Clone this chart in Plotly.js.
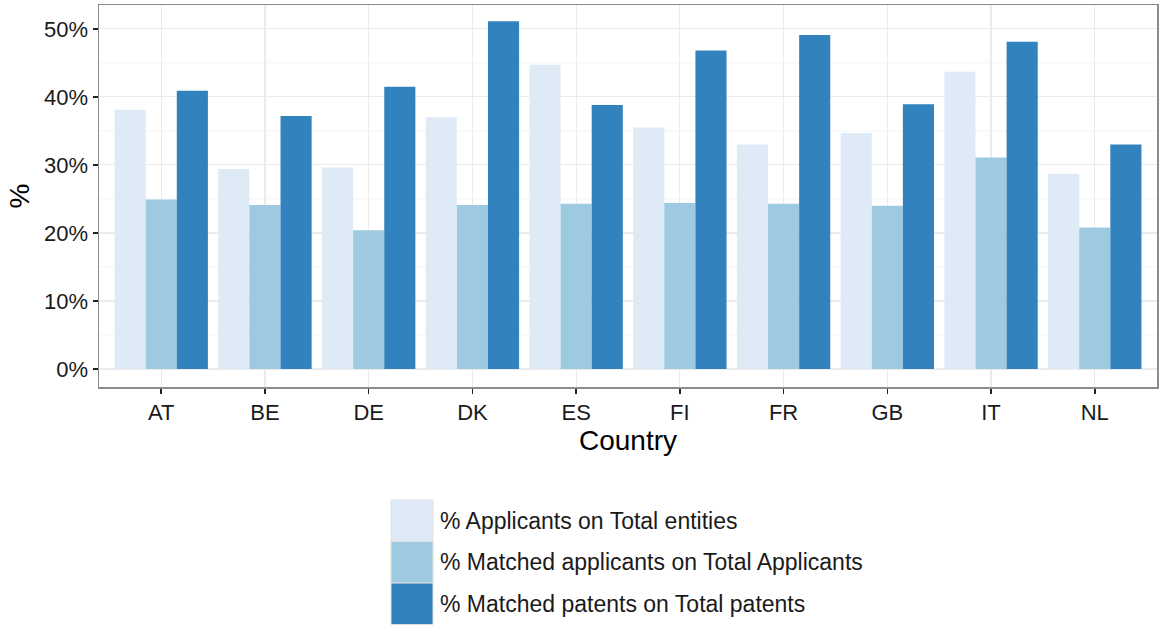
<!DOCTYPE html>
<html>
<head>
<meta charset="utf-8">
<script src="https://cdn.plot.ly/plotly-3.0.1.min.js"></script>
<style>html,body{margin:0;padding:0;background:#fff;}#chart{width:1159px;height:625px;}</style>
</head>
<body>
<div id="chart"></div>
<script>
const countries = ["AT","BE","DE","DK","ES","FI","FR","GB","IT","NL"];
const applicantsOnEntities = [0.381,0.294,0.296,0.370,0.447,0.355,0.330,0.347,0.437,0.287];
const matchedApplicants = [0.249,0.241,0.204,0.241,0.243,0.244,0.243,0.240,0.311,0.208];
const matchedPatents = [0.409,0.372,0.415,0.511,0.388,0.468,0.491,0.389,0.481,0.330];
const seriesNames = ["% Applicants on Total entities","% Matched applicants on Total Applicants","% Matched patents on Total patents"];
const seriesColors = ["#deebf7","#9ecae1","#3182bd"];
const yTicks = [0,0.1,0.2,0.3,0.4,0.5];
const yTickLabels = ["0%","10%","20%","30%","40%","50%"];

const font = "Liberation Sans, Arial, sans-serif";
const values = [applicantsOnEntities, matchedApplicants, matchedPatents];
const traces = values.map((v,i)=>({
  type:"bar", x:countries, y:v, name:seriesNames[i],
  marker:{color:seriesColors[i], line:{width:0}},
  hoverinfo:"x+y", showlegend:false
}));

const shapes = [0.05,0.15,0.25,0.35,0.45].map(v=>({
  type:"line", xref:"paper", x0:0, x1:1, yref:"y", y0:v, y1:v,
  line:{color:"#f4f4f4", width:1}, layer:"below"
}));

// custom legend (large keys, like ggplot)
const keyX0 = 0.276, keyX1 = 0.3157, keyTop = -0.2958, keyH = 0.1087;
const annotations = [];
seriesNames.forEach((n,i)=>{
  const y0 = keyTop - keyH*i;
  shapes.push({type:"rect", xref:"paper", yref:"paper", x0:keyX0, x1:keyX1,
    y0:y0-keyH, y1:y0, fillcolor:seriesColors[i], line:{color:"#e0e0e0", width:1}});
  annotations.push({xref:"paper", yref:"paper", x:0.3205, y:y0-keyH/2,
    xanchor:"left", yanchor:"middle", showarrow:false, text:n,
    font:{size:23, color:"#1a1a1a", family:font}});
});

const layout = {
  width:1159, height:625,
  margin:{l:99, r:2, t:5, b:238},
  paper_bgcolor:"#fff", plot_bgcolor:"#fff",
  font:{family:font, color:"#1a1a1a"},
  barmode:"group", bargap:0.1, bargroupgap:0,
  xaxis:{
    type:"category", range:[-0.6,9.6],
    showgrid:true, gridcolor:"#ebebeb", gridwidth:1.2,
    ticks:"outside", ticklen:5, tickwidth:1.5, tickcolor:"#222",
    tickfont:{size:22, color:"#1a1a1a"},
    showline:true, linecolor:"#8c8c8c", linewidth:1.5, mirror:true,
    title:{text:"Country", font:{size:28, color:"#000"}, standoff:2},
    zeroline:false
  },
  yaxis:{
    range:[-0.0265,0.535],
    tickvals:yTicks, ticktext:yTickLabels,
    showgrid:true, gridcolor:"#ebebeb", gridwidth:1.2,
    ticks:"outside", ticklen:5, tickwidth:1.5, tickcolor:"#222",
    tickfont:{size:22, color:"#1a1a1a"},
    showline:true, linecolor:"#8c8c8c", linewidth:1.5, mirror:true,
    title:{text:"%", font:{size:28, color:"#000"}, standoff:6},
    zeroline:false
  },
  shapes:shapes,
  annotations:annotations,
  showlegend:false
};
Plotly.newPlot("chart", traces, layout, {displayModeBar:false, staticPlot:true});
</script>
</body>
</html>
